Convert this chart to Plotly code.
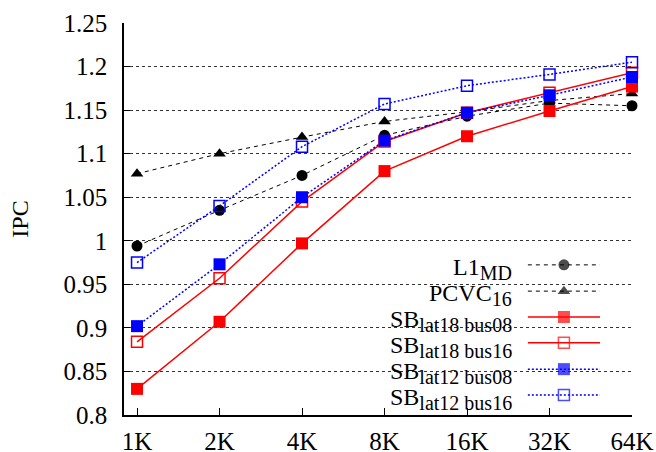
import plotly.graph_objects as go

categories = ["1K", "2K", "4K", "8K", "16K", "32K", "64K"]
l1_md = [0.994, 1.035, 1.075, 1.121, 1.143, 1.158, 1.155]
pcvc16 = [1.077, 1.100, 1.119, 1.137, 1.148, 1.161, 1.169]
sb18_08 = [0.830, 0.907, 0.997, 1.080, 1.120, 1.149, 1.177]
sb18_16 = [0.884, 0.957, 1.045, 1.114, 1.147, 1.170, 1.193]
sb12_08 = [0.902, 0.973, 1.050, 1.115, 1.147, 1.167, 1.188]
sb12_16 = [0.975, 1.040, 1.108, 1.157, 1.178, 1.191, 1.205]
y_ticks = [0.8, 0.85, 0.9, 0.95, 1.0, 1.05, 1.1, 1.15, 1.2, 1.25]
y_tick_text = ["0.8", "0.85", "0.9", "0.95", "1", "1.05", "1.1", "1.15", "1.2", "1.25"]

SUB = '<sub><span style="font-size:20px">{}</span></sub>'
names = ["L1" + SUB.format("MD"), "PCVC" + SUB.format("16"),
         "SB" + SUB.format("lat18 bus08"), "SB" + SUB.format("lat18 bus16"),
         "SB" + SUB.format("lat12 bus08"), "SB" + SUB.format("lat12 bus16")]
series = [l1_md, pcvc16, sb18_08, sb18_16, sb12_08, sb12_16]
styles = [
    dict(color="black", dash="4px,4px", width=1, symbol="circle", msize=11, mline=0),
    dict(color="black", dash="4px,4px", width=1, symbol="triangle-up", msize=11, mline=0),
    dict(color="red", dash="solid", width=1.5, symbol="square", msize=12, mline=0),
    dict(color="red", dash="solid", width=1.5, symbol="square-open", msize=11, mline=1.5),
    dict(color="blue", dash="2px,2px", width=1.5, symbol="square", msize=12, mline=0),
    dict(color="blue", dash="2px,2px", width=1.5, symbol="square-open", msize=11, mline=1.5),
]

FONT = "Liberation Serif, Times New Roman, serif"
TICKFONT = dict(family=FONT, size=25, color="black", weight="normal", style="normal")
xidx = list(range(len(categories)))

fig = go.Figure()
for nm, ys, st in zip(names, series, styles):
    fig.add_trace(go.Scatter(
        x=xidx, y=ys, mode="lines+markers", name=nm, cliponaxis=False,
        line=dict(color=st["color"], dash=st["dash"], width=st["width"]),
        marker=dict(symbol=st["symbol"], size=st["msize"], color=st["color"],
                    line=dict(color=st["color"], width=st["mline"])),
        showlegend=False, xaxis="x", yaxis="y"))

# custom gnuplot-style legend (text right-aligned, sample to the right)
leg_y = [0.383, 0.316, 0.250, 0.184, 0.117, 0.051]
for nm, st, yy in zip(names, styles, leg_y):
    fig.add_trace(go.Scatter(
        x=[0.795, 0.866, 0.937], y=[yy, yy, yy], mode="lines+markers",
        cliponaxis=False, showlegend=False, hoverinfo="skip",
        line=dict(color=st["color"], dash=st["dash"], width=st["width"]),
        marker=dict(symbol=st["symbol"], size=[0, st["msize"], 0], color=st["color"],
                    line=dict(color=st["color"], width=st["mline"])),
        xaxis="x3", yaxis="y3"))
    fig.add_annotation(x=0.768, y=yy, xref="paper", yref="paper", text=nm,
                       showarrow=False, xanchor="right", yanchor="middle", yshift=-4,
                       font=dict(family=FONT, size=24, color="black"))

fig.add_shape(type="rect", xref="paper", yref="paper", x0=0.427, x1=0.970,
              y0=0.005, y1=0.426, fillcolor="white", line=dict(width=0), layer="between")

fig.update_layout(
    width=656, height=452,
    margin=dict(l=124, r=24, t=23, b=37),
    paper_bgcolor="white", plot_bgcolor="white",
    font=dict(family=FONT, size=24, color="black"),
    xaxis=dict(range=[-0.158, 6.0], tickmode="array", tickvals=xidx, ticktext=categories,
               showgrid=False, zeroline=False, showline=True, linecolor="black", linewidth=1.5,
               ticks="inside", ticklen=7, tickcolor="black", tickwidth=1, automargin=False,
               ticklabelstandoff=3, tickfont=TICKFONT),
    xaxis2=dict(range=[-0.158, 6.0], overlaying="x", anchor="y", side="top",
                tickmode="array", tickvals=xidx, showticklabels=False, showgrid=False,
                zeroline=False, showline=False, ticks="inside", ticklen=7, automargin=False,
                tickcolor="black", tickwidth=1),
    yaxis=dict(range=[0.8, 1.25], tickmode="array", tickvals=y_ticks, ticktext=y_tick_text,
               showgrid=True, gridcolor="#333", griddash="dot", gridwidth=1,
               zeroline=False, showline=True, linecolor="black", linewidth=1.5,
               ticks="inside", ticklen=6, tickcolor="black", tickwidth=1, automargin=False,
               ticklabelstandoff=10, tickfont=TICKFONT,
               title=dict(text="IPC", standoff=28, font=dict(family=FONT, size=24))),
    xaxis3=dict(range=[0, 1], overlaying="x", visible=False, fixedrange=True, automargin=False),
    yaxis3=dict(range=[0, 1], overlaying="y", visible=False, fixedrange=True, anchor="x3",
                automargin=False),
)
fig.write_html("out.html")
